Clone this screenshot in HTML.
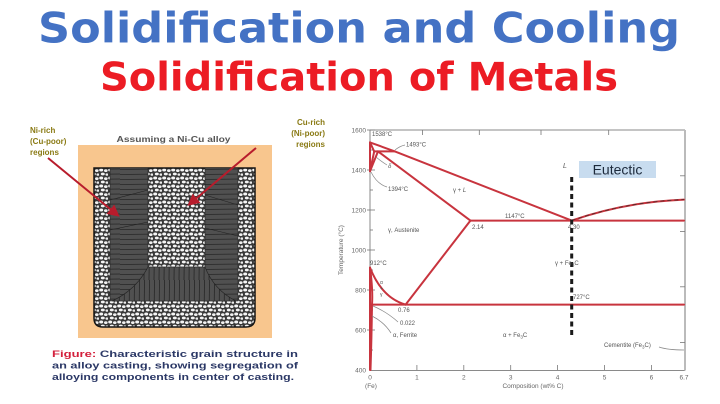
<!DOCTYPE html>
<html><head><meta charset="utf-8"><style>
html,body{margin:0;padding:0;background:#fff;}
svg{display:block;}
</style></head><body>
<svg width="720" height="404" viewBox="0 0 720 404" xmlns="http://www.w3.org/2000/svg">
<defs>
<pattern id="grains" width="9" height="8" patternUnits="userSpaceOnUse">
<rect width="9" height="8" fill="#383838"/>
<ellipse cx="2.2" cy="2" rx="2" ry="1.5" fill="#f6f6f6"/>
<ellipse cx="6.8" cy="2.6" rx="1.8" ry="1.4" fill="#f0f0f0"/>
<ellipse cx="3.8" cy="6" rx="2" ry="1.4" fill="#f4f4f4"/>
<ellipse cx="7.9" cy="6.6" rx="1.4" ry="1.2" fill="#ececec"/>
</pattern>
<pattern id="hcol" width="40" height="5" patternUnits="userSpaceOnUse">
<rect width="40" height="5" fill="#505050"/>
<line x1="0" y1="4.5" x2="40" y2="4" stroke="#262626" stroke-width="0.8"/>
</pattern>
<pattern id="vcol" width="5" height="40" patternUnits="userSpaceOnUse">
<rect width="5" height="40" fill="#505050"/>
<line x1="4.5" y1="0" x2="4" y2="40" stroke="#262626" stroke-width="0.8"/>
</pattern>
<marker id="ah" markerWidth="6" markerHeight="6" refX="3" refY="3" orient="auto">
<path d="M0,0 L6,3 L0,6 Z" fill="#b81c2c"/>
</marker>
</defs>
<rect width="720" height="404" fill="#fff"/>

<!-- Titles -->
<text x="38" y="42.5" font-family="DejaVu Sans, Liberation Sans, sans-serif" font-weight="bold" font-size="42" fill="#4472c4" textLength="642" lengthAdjust="spacingAndGlyphs">Solidification and Cooling</text>
<text x="100" y="90.5" font-family="DejaVu Sans, Liberation Sans, sans-serif" font-weight="bold" font-size="39" fill="#ec1c24" textLength="518" lengthAdjust="spacingAndGlyphs">Solidification of Metals</text>

<!-- Left panel -->
<rect x="78" y="145" width="194" height="193" fill="#f8c68e"/>
<path d="M94,168 L255,168 L255,318 Q255,327 246,327 L103,327 Q94,327 94,318 Z" fill="url(#grains)" stroke="#151515" stroke-width="1.5"/>
<path d="M110,168 L148,168 L148,267 L205,267 L205,168 L238,168 L238,301 L110,301 Z" fill="url(#hcol)" stroke="#222" stroke-width="0.6"/>
<path d="M148,267 L205,267 Q214,290 236,301 L112,301 Q136,290 148,267 Z" fill="url(#vcol)" stroke="#222" stroke-width="0.6"/>
<line x1="110" y1="200" x2="148" y2="190" stroke="#222" stroke-width="0.6"/>
<line x1="110" y1="230" x2="148" y2="222" stroke="#222" stroke-width="0.6"/>
<line x1="205" y1="195" x2="238" y2="205" stroke="#222" stroke-width="0.6"/>
<line x1="205" y1="228" x2="238" y2="236" stroke="#222" stroke-width="0.6"/>

<text x="173.5" y="142" font-family="Liberation Sans, sans-serif" font-weight="bold" font-size="8" fill="#555" text-anchor="middle" textLength="114" lengthAdjust="spacingAndGlyphs">Assuming a Ni-Cu alloy</text>
<g font-family="Liberation Sans, sans-serif" font-weight="bold" font-size="8" fill="#8a7a14">
<text x="30" y="133">Ni-rich</text>
<text x="30" y="144">(Cu-poor)</text>
<text x="30" y="155">regions</text>
<text x="325" y="125" text-anchor="end">Cu-rich</text>
<text x="325" y="136" text-anchor="end">(Ni-poor)</text>
<text x="325" y="147" text-anchor="end">regions</text>
</g>
<line x1="48" y1="158" x2="115" y2="213" stroke="#b81c2c" stroke-width="2" marker-end="url(#ah)"/>
<line x1="256" y1="148" x2="192" y2="202" stroke="#b81c2c" stroke-width="2" marker-end="url(#ah)"/>

<g font-family="Liberation Sans, sans-serif" font-weight="bold" font-size="9.6" fill="#2b3866">
<text x="52" y="357" textLength="246" lengthAdjust="spacingAndGlyphs"><tspan fill="#d3203c">Figure:</tspan> Characteristic grain structure in</text>
<text x="52" y="368.5" textLength="246" lengthAdjust="spacingAndGlyphs">an alloy casting, showing segregation of</text>
<text x="52" y="380" textLength="242" lengthAdjust="spacingAndGlyphs">alloying components in center of casting.</text>
</g>

<!-- Chart frame -->
<g stroke="#8a8a8a" stroke-width="1" fill="none">
<line x1="370" y1="130" x2="685" y2="130"/>
<line x1="370" y1="130" x2="370" y2="370.5"/>
<line x1="370" y1="370.5" x2="685" y2="370.5"/>
</g>
<line x1="685" y1="130" x2="685" y2="370.5" stroke="#bbb" stroke-width="2"/>
<g stroke="#777" stroke-width="0.8">
<line x1="367" y1="130" x2="375" y2="130"/>
<line x1="367" y1="170" x2="375" y2="170"/>
<line x1="367" y1="210" x2="375" y2="210"/>
<line x1="367" y1="250" x2="375" y2="250"/>
<line x1="367" y1="290" x2="375" y2="290"/>
<line x1="367" y1="330" x2="375" y2="330"/>
<line x1="370" y1="150" x2="373" y2="150"/>
<line x1="370" y1="190" x2="373" y2="190"/>
<line x1="370" y1="230" x2="373" y2="230"/>
<line x1="370" y1="270" x2="373" y2="270"/>
<line x1="370" y1="310" x2="373" y2="310"/>
<line x1="370" y1="350" x2="373" y2="350"/>
<line x1="416.9" y1="370" x2="416.9" y2="365"/>
<line x1="463.8" y1="370" x2="463.8" y2="365"/>
<line x1="510.7" y1="370" x2="510.7" y2="365"/>
<line x1="557.6" y1="370" x2="557.6" y2="365"/>
<line x1="604.5" y1="370" x2="604.5" y2="365"/>
<line x1="651.4" y1="370" x2="651.4" y2="365"/>
<line x1="422.5" y1="130" x2="422.5" y2="135"/>
<line x1="479.3" y1="130" x2="479.3" y2="135"/>
<line x1="541" y1="130" x2="541" y2="135"/>
<line x1="608.7" y1="130" x2="608.7" y2="135"/>
<line x1="680" y1="175.8" x2="685" y2="175.8"/>
<line x1="680" y1="231.4" x2="685" y2="231.4"/>
<line x1="680" y1="286.8" x2="685" y2="286.8"/>
<line x1="680" y1="342.4" x2="685" y2="342.4"/>
</g>
<g font-family="Liberation Sans, sans-serif" font-size="6.5" fill="#666">
<text x="366" y="132.3" text-anchor="end">1600</text>
<text x="366" y="172.3" text-anchor="end">1400</text>
<text x="366" y="212.3" text-anchor="end">1200</text>
<text x="366" y="252.3" text-anchor="end">1000</text>
<text x="366" y="292.3" text-anchor="end">800</text>
<text x="366" y="332.3" text-anchor="end">600</text>
<text x="366" y="372.3" text-anchor="end">400</text>
<text x="370" y="379.5" text-anchor="middle">0</text>
<text x="416.9" y="379.5" text-anchor="middle">1</text>
<text x="463.8" y="379.5" text-anchor="middle">2</text>
<text x="510.7" y="379.5" text-anchor="middle">3</text>
<text x="557.6" y="379.5" text-anchor="middle">4</text>
<text x="604.5" y="379.5" text-anchor="middle">5</text>
<text x="651.4" y="379.5" text-anchor="middle">6</text>
<text x="684" y="379.5" text-anchor="middle">6.7</text>
<text x="371" y="388" text-anchor="middle">(Fe)</text>
<text x="533" y="388" text-anchor="middle">Composition (wt% C)</text>
<text transform="translate(343,250) rotate(-90)" text-anchor="middle">Temperature (°C)</text>
</g>

<!-- Phase boundaries -->
<g stroke="#c8343e" stroke-width="2" fill="none" stroke-linecap="round">
<path d="M370,142.4 L394.9,151.4 L571.7,220.6"/>
<path d="M571.7,220.6 Q625,202 684,199.6"/>
<path d="M374.2,151.4 L394.9,151.4"/>
<path d="M370,142.4 L374.2,151.4"/>
<path d="M370,171.2 L374.2,151.4"/>
<path d="M370,171.2 L378,151.4"/>
<path d="M378,151.4 L470.4,220.6"/>
<path d="M470.4,220.6 L684,220.6"/>
<path d="M470.4,220.6 L405.6,304.6"/>
<path d="M370,267.6 Q382,298 405.6,304.6"/>
<path d="M370,267.6 Q373,290 372,304.6"/>
<path d="M372,304.6 L684,304.6"/>
<path d="M372,304.6 Q371.5,340 370.5,370"/>
<path d="M370,142.4 L370,171.2"/>
<path d="M370,267.6 L370,370"/>
</g>
<path d="M571.7,220.6 Q625,202 684,199.6" stroke="#5a2a2a" stroke-width="0.9" stroke-dasharray="4 3" fill="none"/>

<line x1="571.7" y1="177" x2="571.7" y2="338" stroke="#1a1a1a" stroke-width="3" stroke-dasharray="5 3.5"/>
<rect x="579" y="161" width="77" height="17" fill="#c8dcef"/>
<text x="617.5" y="174.5" font-family="Liberation Sans, sans-serif" font-size="14" fill="#1d2a3c" text-anchor="middle">Eutectic</text>

<g stroke="#888" stroke-width="0.7" fill="none">
<path d="M395,150 Q400,146 405,145"/>
<path d="M376,157 Q382,162 387,165"/>
<path d="M371,172 Q377,184 387,187"/>
<path d="M373,306 Q387,312 398,322"/>
<path d="M372,316 Q384,322 391,333"/>
<path d="M659,347 Q668,350 684,350"/>
</g>

<g font-family="Liberation Sans, sans-serif" font-size="6" fill="#555">
<text x="372" y="136">1538°C</text>
<text x="406" y="146.5">1493°C</text>
<text x="388" y="168" font-style="italic">δ</text>
<text x="388" y="191">1394°C</text>
<text x="453" y="192">γ + <tspan font-style="italic">L</tspan></text>
<text x="563" y="168" font-style="italic" font-size="7">L</text>
<text x="388" y="232">γ, Austenite</text>
<text x="505" y="218">1147°C</text>
<text x="472" y="229">2.14</text>
<text x="568" y="229">4.30</text>
<text x="555" y="265">γ + Fe<tspan font-size="4.5" dy="1.5">3</tspan><tspan dy="-1.5">C</tspan></text>
<text x="573" y="299">727°C</text>
<text x="370" y="265">912°C</text>
<text x="380" y="284" font-size="5">α</text>
<text x="380" y="290" font-size="5">+</text>
<text x="380" y="296" font-size="5">γ</text>
<text x="398" y="312">0.76</text>
<text x="400" y="325">0.022</text>
<text x="393" y="337">α, Ferrite</text>
<text x="503" y="337">α + Fe<tspan font-size="4.5" dy="1.5">3</tspan><tspan dy="-1.5">C</tspan></text>
<text x="604" y="347">Cementite (Fe<tspan font-size="4.5" dy="1.5">3</tspan><tspan dy="-1.5">C)</tspan></text>
</g>
</svg>
</body></html>
